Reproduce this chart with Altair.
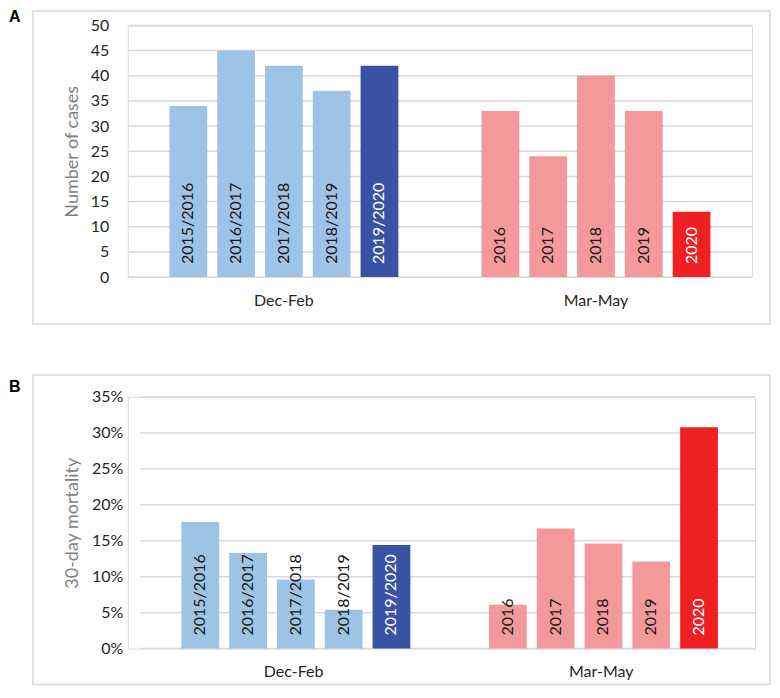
import altair as alt
import pandas as pd

# ---- data ----
periods = ["Dec-Feb", "Mar-May"]
labels_dec = ["2015/2016", "2016/2017", "2017/2018", "2018/2019", "2019/2020"]
labels_mar = ["2016", "2017", "2018", "2019", "2020"]
cases_dec = [34, 45, 42, 37, 42]
cases_mar = [33, 24, 40, 33, 13]
mortality_dec = [17.6, 13.3, 9.6, 5.4, 14.4]   # percent
mortality_mar = [6.1, 16.7, 14.6, 12.1, 30.8]  # percent
bar_colors_dec = ["#9DC3E6", "#9DC3E6", "#9DC3E6", "#9DC3E6", "#3953A4"]
bar_colors_mar = ["#F4999B", "#F4999B", "#F4999B", "#F4999B", "#EE2024"]
text_colors_dec = ["#1a1a1a", "#1a1a1a", "#1a1a1a", "#1a1a1a", "#FFFFFF"]
text_colors_mar = ["#1a1a1a", "#1a1a1a", "#1a1a1a", "#1a1a1a", "#FFFFFF"]
ticks_cases = [0, 5, 10, 15, 20, 25, 30, 35, 40, 45, 50]
ticks_mortality = [0, 0.05, 0.10, 0.15, 0.20, 0.25, 0.30, 0.35]

FONT = "Lato"


def build_df(vals_dec, vals_mar):
    rows = []
    for i in range(5):
        rows.append(dict(period=periods[0], slot=i, label=labels_dec[i], value=vals_dec[i],
                         base=0, color=bar_colors_dec[i], tcolor=text_colors_dec[i]))
    for i in range(5):
        rows.append(dict(period=periods[1], slot=i, label=labels_mar[i], value=vals_mar[i],
                         base=0, color=bar_colors_mar[i], tcolor=text_colors_mar[i]))
    return pd.DataFrame(rows)


df_a = build_df(cases_dec, cases_mar)
df_b = build_df([v / 100 for v in mortality_dec], [v / 100 for v in mortality_mar])


def panel(df, ticks, yfmt, ytitle, width, height, xrange, frame, letter, letter_xy,
          label_pad, title_x):
    x_enc = alt.X("period:N", sort=periods,
                  scale=alt.Scale(range=xrange, paddingInner=0, paddingOuter=0),
                  axis=alt.Axis(title=None, labelAngle=0, domain=False, ticks=False,
                                labelPadding=15, labelFont=FONT, labelFontSize=16,
                                labelColor="#262626"))
    xo_enc = alt.XOffset("slot:O", scale=alt.Scale(paddingInner=0.21, paddingOuter=0.87))
    y_axis = alt.Axis(values=ticks, format=yfmt, title=ytitle, domain=False, ticks=False,
                      grid=False, labelOverlap=False,
                      labelFont=FONT, labelFontSize=16, labelColor="#262626",
                      labelPadding=label_pad,
                      titleFont=FONT, titleFontSize=18, titleFontWeight="normal",
                      titleColor="#808080", titleX=title_x, titleY=height / 2,
                      titleBaseline="middle", titleAngle=270)
    y_scale = alt.Scale(domain=[ticks[0], ticks[-1]], nice=False)

    grid = alt.Chart(pd.DataFrame({"t": ticks})).mark_rule(
        color="#D9D9D9", strokeWidth=1.5).encode(
        y=alt.Y("t:Q", scale=y_scale, axis=y_axis),
        x=alt.value(xrange[0]), x2=alt.value(xrange[1]))

    base = alt.Chart(df)
    bars = base.mark_bar().encode(
        x=x_enc, xOffset=xo_enc,
        y=alt.Y("value:Q", scale=y_scale, axis=y_axis),
        color=alt.Color("color:N", scale=None))
    texts = base.mark_text(angle=270, align="left", baseline="middle", dx=13,
                           font=FONT, fontSize=16).encode(
        x=x_enc, xOffset=xo_enc,
        y=alt.Y("base:Q", scale=y_scale, axis=y_axis),
        text="label:N",
        color=alt.Color("tcolor:N", scale=None))

    one = alt.Chart(pd.DataFrame({"k": [0]}))
    fx1, fx2, fy1, fy2 = frame
    frame_mark = one.mark_rect(fillOpacity=0, stroke="#D9D9D9", strokeWidth=1.5).encode(
        x=alt.value(fx1), x2=alt.value(fx2), y=alt.value(fy1), y2=alt.value(fy2))
    letter_mark = one.mark_text(text=letter, font="Liberation Sans", fontWeight="bold",
                                fontSize=16, align="left", baseline="top",
                                color="#000000").encode(
        x=alt.value(letter_xy[0]), y=alt.value(letter_xy[1]))

    return alt.layer(frame_mark, grid, bars, texts, letter_mark).properties(
        width=width, height=height)


# both plot areas share the same left origin (page x = 127)
chart_a = panel(df_a, ticks_cases, "d", "Number of cases",
                625, 252, [0, 625], (-95, 643, -14.5, 299), "A", (-119, -16), 19, -55)
chart_b = panel(df_b, ticks_mortality, ".0%", "30-day mortality",
                628, 252, [12, 628], (-95, 643, -22, 288), "B", (-119, -18), 5, -55)

chart = alt.vconcat(chart_a, chart_b, spacing=47).properties(
    padding=0).configure_view(stroke=None).configure(background="white")

chart.save("out.html", embed_options={"renderer": "svg", "actions": False})
